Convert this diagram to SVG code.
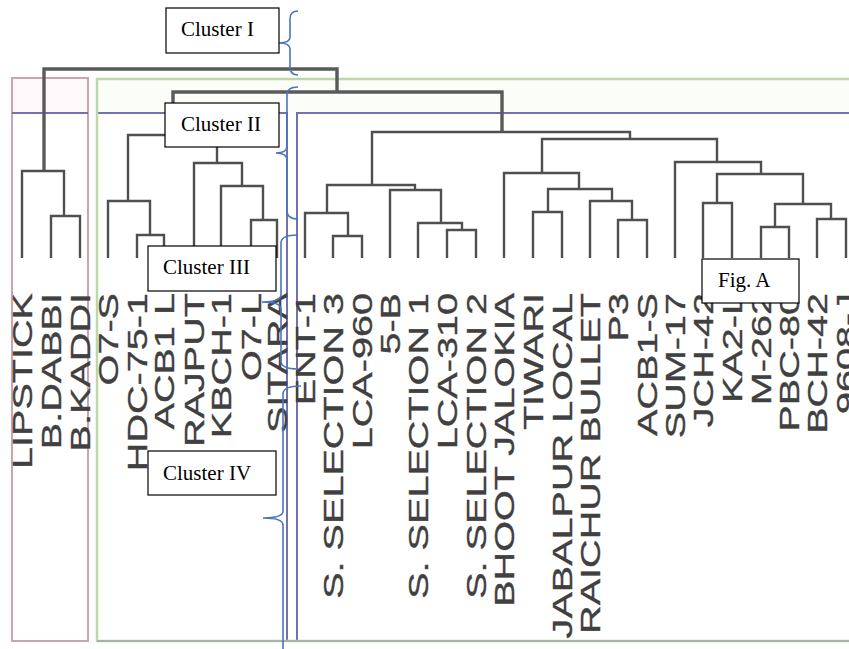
<svg xmlns="http://www.w3.org/2000/svg" width="849" height="649" viewBox="0 0 849 649">
<style>
.frame{fill:none;stroke-width:2}
.pink{stroke:#cfa3ad}
.green{stroke:#bad8a8;stroke-width:2.5}
.purple{stroke:#7372b0}
.den path{fill:none;stroke:#4f4f4f;stroke-width:2.4;stroke-linejoin:miter}
.den path.thick{stroke-width:3.4;stroke:#5a5a5a}
.lbl{font-family:"Liberation Sans",Arial,sans-serif;font-size:27.5px;fill:#404040;stroke:#404040;stroke-width:0.35;text-anchor:end}
.brace{fill:none;stroke:#4a76c0;stroke-width:1.6}
.box rect{fill:#fff;stroke:#000;stroke-width:1.2}
.box text{font-family:"Liberation Serif","Times New Roman",serif;font-size:21px;fill:#000}
</style>
<rect width="849" height="649" fill="#fff"/>
<g id="frames">
<rect x="12" y="78" width="76" height="35" fill="#fdf8f9" stroke="none"/>
<rect x="97" y="79" width="760" height="34" fill="#fbfdf9" stroke="none"/>
<rect class="frame purple" x="97" y="113" width="190" height="528"/>
<rect class="frame purple" x="297" y="113" width="560" height="528"/>
<rect class="frame green" x="97" y="79" width="760" height="562"/>
<rect class="frame pink" x="12" y="78" width="76" height="563"/>
<line class="frame purple" x1="12" y1="113" x2="88" y2="113"/>
<line x1="97" y1="641" x2="849" y2="641" stroke="#a9b3a5" stroke-width="2"/>
</g>
<g id="connectors" class="den">
<path class="thick" d="M44 171V69H337V92"/>
<path class="thick" d="M173 135V92H502V132"/>
<path d="M51 258V216H80V258"/>
<path d="M22 258V171H64V216"/>
<path d="M137 258V235H164V258"/>
<path d="M108 258V201H150V235"/>
<path d="M251 258V220H277V258"/>
<path d="M221 258V186H263V220"/>
<path d="M194 258V163H242V186"/>
<path d="M128 201V135H217V163"/>
<path d="M333 258V236H362V258"/>
<path d="M305 258V213H348V236"/>
<path d="M447 258V230H476V258"/>
<path d="M418 258V223H462V230"/>
<path d="M390 258V190H441V223"/>
<path d="M327 213V185H415V190"/>
<path d="M533 258V212H562V258"/>
<path d="M618 258V220H647V258"/>
<path d="M590 258V201H632V220"/>
<path d="M548 212V189H612V201"/>
<path d="M504 258V173H579V189"/>
<path d="M703 258V203H732V258"/>
<path d="M761 258V227H789V258"/>
<path d="M817 258V219H846V258"/>
<path d="M775 227V204H831V219"/>
<path d="M717 203V174H803V204"/>
<path d="M675 258V162H761V174"/>
<path d="M542 173V139H717V162"/>
<path d="M372 185V132H630V139"/>
</g>
<g id="labels">
<g id="leaf-lipstick"><text class="lbl" transform="translate(31.8 293) rotate(-90) scale(1.44 1)">LIPSTICK</text></g>
<g id="leaf-bdabbi"><text class="lbl" transform="translate(60.8 293) rotate(-90) scale(1.44 1)">B.DABBI</text></g>
<g id="leaf-bkaddi"><text class="lbl" transform="translate(89.8 293) rotate(-90) scale(1.44 1)">B.KADDI</text></g>
<g id="leaf-o7s"><text class="lbl" transform="translate(117.8 293) rotate(-90) scale(1.44 1)">O7-S</text></g>
<g id="leaf-hdc"><text class="lbl" transform="translate(146.8 293) rotate(-90) scale(1.44 1)">HDC-75-1</text></g>
<g id="leaf-acb1l"><text class="lbl" transform="translate(173.8 293) rotate(-90) scale(1.44 1)">ACB1 L</text></g>
<g id="leaf-rajput"><text class="lbl" transform="translate(203.8 293) rotate(-90) scale(1.44 1)">RAJPUT</text></g>
<g id="leaf-kbch"><text class="lbl" transform="translate(230.8 293) rotate(-90) scale(1.44 1)">KBCH-1</text></g>
<g id="leaf-o7l"><text class="lbl" transform="translate(260.8 293) rotate(-90) scale(1.44 1)">O7-L</text></g>
<g id="leaf-sitara"><text class="lbl" transform="translate(286.8 293) rotate(-90) scale(1.44 1)">SITARA</text></g>
<g id="leaf-ent1"><text class="lbl" transform="translate(314.8 293) rotate(-90) scale(1.44 1)">ENT-1</text></g>
<g id="leaf-ssel3"><text class="lbl" transform="translate(342.8 293) rotate(-90) scale(1.44 1)">S. SELECTION 3</text></g>
<g id="leaf-lca960"><text class="lbl" transform="translate(371.8 293) rotate(-90) scale(1.44 1)">LCA-960</text></g>
<g id="leaf-5b"><text class="lbl" transform="translate(399.8 293) rotate(-90) scale(1.44 1)">5-B</text></g>
<g id="leaf-ssel1"><text class="lbl" transform="translate(427.8 293) rotate(-90) scale(1.44 1)">S. SELECTION 1</text></g>
<g id="leaf-lca310"><text class="lbl" transform="translate(456.8 293) rotate(-90) scale(1.44 1)">LCA-310</text></g>
<g id="leaf-ssel2"><text class="lbl" transform="translate(485.8 293) rotate(-90) scale(1.44 1)">S. SELECTION 2</text></g>
<g id="leaf-bhoot"><text class="lbl" transform="translate(513.8 293) rotate(-90) scale(1.44 1)">BHOOT JALOKIA</text></g>
<g id="leaf-tiwari"><text class="lbl" transform="translate(542.8 293) rotate(-90) scale(1.44 1)">TIWARI</text></g>
<g id="leaf-jabalpur"><text class="lbl" transform="translate(571.8 293) rotate(-90) scale(1.44 1)">JABALPUR LOCAL</text></g>
<g id="leaf-raichur"><text class="lbl" transform="translate(599.8 293) rotate(-90) scale(1.44 1)">RAICHUR BULLET</text></g>
<g id="leaf-p3"><text class="lbl" transform="translate(627.8 293) rotate(-90) scale(1.44 1)">P3</text></g>
<g id="leaf-acb1s"><text class="lbl" transform="translate(656.8 293) rotate(-90) scale(1.44 1)">ACB1-S</text></g>
<g id="leaf-sum17"><text class="lbl" transform="translate(684.8 293) rotate(-90) scale(1.44 1)">SUM-17</text></g>
<g id="leaf-jch42"><text class="lbl" transform="translate(712.8 293) rotate(-90) scale(1.44 1)">JCH-42</text></g>
<g id="leaf-ka2l"><text class="lbl" transform="translate(741.8 293) rotate(-90) scale(1.44 1)">KA2-L</text></g>
<g id="leaf-m262"><text class="lbl" transform="translate(770.8 293) rotate(-90) scale(1.44 1)">M-262</text></g>
<g id="leaf-pbc80"><text class="lbl" transform="translate(798.8 293) rotate(-90) scale(1.44 1)">PBC-80</text></g>
<g id="leaf-bch42"><text class="lbl" transform="translate(826.8 293) rotate(-90) scale(1.44 1)">BCH-42</text></g>
<g id="leaf-9608"><text class="lbl" transform="translate(855.8 293) rotate(-90) scale(1.44 1)">9608-J</text></g>
</g>
<g id="braces">
<path class="brace" d="M298 11Q290 11 290 19V37Q290 43 279 43Q290 43 290 49V67Q290 75 298 75"/>
<path class="brace" d="M298 87Q287 87 287 95V146Q287 153 276 153Q287 153 287 160V211Q287 219 298 219"/>
<path class="brace" d="M298 235Q281 235 281 243V295Q281 302 262 302Q281 302 281 309V361Q281 369 298 369"/>
<path class="brace" d="M301 386Q283 386 283 394V511Q283 518 263 518Q283 518 283 525V660"/>
</g>
<g id="cluster-1" class="box"><rect x="166" y="8" width="113" height="45"/><text x="181" y="36">Cluster I</text></g>
<g id="cluster-2" class="box"><rect x="165" y="103" width="114" height="44"/><text x="181" y="131">Cluster II</text></g>
<g id="cluster-3" class="box"><rect x="148" y="246" width="128" height="45"/><text x="163" y="274">Cluster III</text></g>
<g id="cluster-4" class="box"><rect x="148" y="451" width="128" height="44"/><text x="163" y="480">Cluster IV</text></g>
<g id="fig-a" class="box"><rect x="702" y="259" width="97" height="44"/><text x="718" y="287">Fig. A</text></g>
</svg>
